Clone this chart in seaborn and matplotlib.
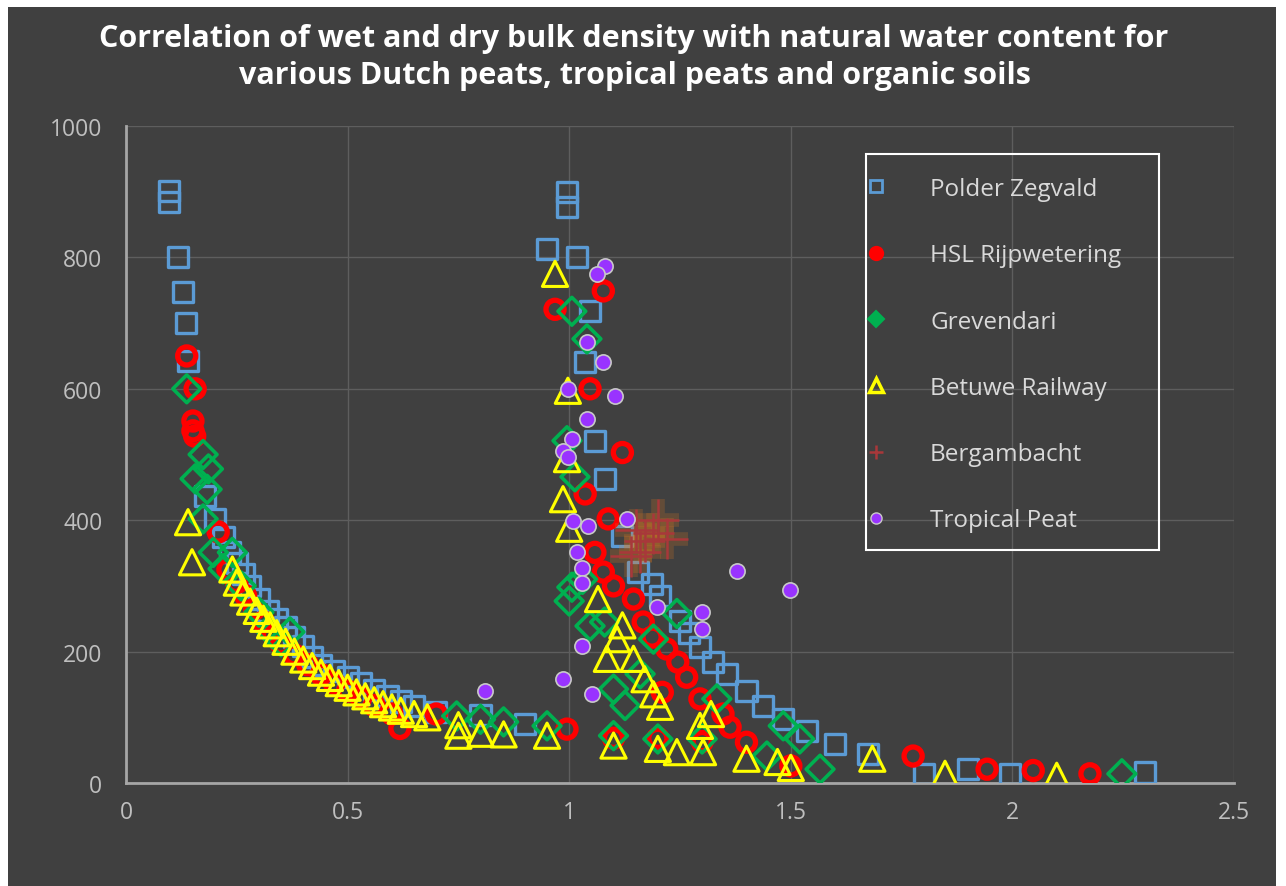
import numpy as np
import pandas as pd
import matplotlib
matplotlib.use("Agg")
import matplotlib.pyplot as plt
import matplotlib.patheffects as pe
from matplotlib.lines import Line2D
from matplotlib.patches import Rectangle
import seaborn as sns

# ---------------- data ----------------
title_lines = ["Correlation of wet and dry bulk density with natural water content for",
               "various Dutch peats, tropical peats and organic soils"]
series_names = ["Polder Zegvald", "HSL Rijpwetering", "Grevendari",
                "Betuwe Railway", "Bergambacht", "Tropical Peat"]
x_ticks = [0, 0.5, 1, 1.5, 2, 2.5]
x_tick_labels = ["0", "0.5", "1", "1.5", "2", "2.5"]
y_ticks = [0, 200, 400, 600, 800, 1000]
y_tick_labels = ["0", "200", "400", "600", "800", "1000"]

polder_x = [0.097, 0.097, 0.118, 0.129, 0.136, 0.140, 0.178, 0.200, 0.220, 0.235, 0.250, 0.265,
            0.280, 0.300, 0.320, 0.340, 0.360, 0.380, 0.400, 0.420, 0.440, 0.470, 0.500, 0.530,
            0.560, 0.590, 0.620, 0.650, 0.700, 0.800, 0.900,
            0.995, 0.995, 0.950, 1.017, 1.047, 1.036, 1.058, 1.081, 1.120, 1.155, 1.187, 1.205,
            1.250, 1.270, 1.295, 1.325, 1.356, 1.400, 1.437, 1.483, 1.536, 1.600, 1.675, 1.800,
            1.900, 1.995, 2.300]
polder_y = [901, 884, 800, 747, 700, 642, 437, 402, 375, 352, 335, 318,
            300, 280, 262, 250, 238, 222, 208, 192, 180, 170, 162, 152,
            142, 132, 124, 117, 108, 103, 90,
            900, 877, 813, 800, 718, 641, 521, 463, 376, 321, 303, 285,
            247, 228, 207, 184, 166, 140, 117, 97, 79, 59, 44, 14,
            21, 14, 16]

hsl_x = [0.137, 0.156, 0.151, 0.151, 0.155, 0.208, 0.230, 0.250, 0.270, 0.290, 0.310, 0.330,
         0.350, 0.380, 0.410, 0.440, 0.470, 0.500, 0.530, 0.560, 0.600, 0.618, 0.700, 0.995,
         1.077, 0.968, 1.047, 1.120, 1.036, 1.088, 1.058, 1.077, 1.100, 1.145, 1.167, 1.187,
         1.220, 1.245, 1.265, 1.210, 1.295, 1.347, 1.363, 1.400, 1.100, 1.200, 1.300, 1.500,
         1.776, 1.943, 2.047, 2.175]
hsl_y = [650, 600, 551, 536, 528, 382, 325, 305, 285, 265, 245, 228,
         212, 195, 180, 165, 152, 140, 130, 118, 105, 83, 105, 82,
         749, 721, 600, 503, 440, 402, 351, 321, 300, 280, 245, 222,
         204, 184, 161, 138, 128, 105, 85, 62, 68, 68, 63, 26,
         41, 21, 19, 14]

grev_x = [0.137, 0.174, 0.186, 0.156, 0.183, 0.174, 0.197, 0.240, 0.219, 0.260, 0.300, 0.330,
          0.350, 0.370, 0.746, 0.800, 0.852, 0.950, 1.100, 1.200,
          1.006, 1.040, 0.995, 1.013, 1.030, 1.006, 1.000, 1.047, 1.080, 1.100, 1.126, 1.160,
          1.190, 1.243, 1.333, 1.446, 1.483, 1.520, 1.566, 1.300, 2.247]
grev_y = [600, 500, 478, 463, 447, 402, 351, 351, 326, 300, 260, 228,
          215, 230, 102, 97, 93, 87, 72, 67,
          718, 676, 521, 466, 310, 298, 277, 239, 245, 143, 118, 166,
          219, 258, 128, 41, 87, 67, 21, 67, 14]

betuwe_x = [0.140, 0.149, 0.240, 0.250, 0.265, 0.280, 0.295, 0.310, 0.325, 0.340, 0.360, 0.380,
            0.400, 0.420, 0.440, 0.460, 0.480, 0.500, 0.520, 0.540, 0.560, 0.580, 0.600, 0.620,
            0.650, 0.680, 0.750, 0.750, 0.800, 0.852, 0.950,
            0.968, 0.997, 0.995, 0.986, 1.000, 1.065, 1.120, 1.085, 1.108, 1.145, 1.170, 1.190,
            1.205, 1.100, 1.200, 1.243, 1.302, 1.295, 1.320, 1.400, 1.470, 1.500, 1.684, 1.848,
            2.100]
betuwe_y = [397, 336, 325, 305, 290, 276, 262, 250, 240, 228, 215, 200,
            188, 178, 168, 160, 152, 145, 138, 132, 126, 120, 115, 110,
            105, 100, 88, 72, 75, 74, 72,
            775, 597, 493, 432, 387, 280, 240, 189, 219, 189, 158, 135,
            116, 57, 52, 47, 47, 87, 105, 37, 32, 23, 37, 14,
            11]

berg_x = [1.140, 1.150, 1.170, 1.190, 1.200, 1.160, 1.220]
berg_y = [345, 385, 368, 380, 400, 352, 372]

trop_x = [1.081, 1.062, 1.040, 1.077, 0.998, 1.103, 1.040, 1.006, 0.986, 0.998, 1.008, 1.042,
          1.130, 1.017, 1.030, 1.030, 1.378, 1.197, 1.300, 1.300, 1.030, 1.498, 0.986, 0.810,
          1.051]
trop_y = [787, 775, 671, 641, 600, 589, 554, 524, 506, 496, 399, 391,
          402, 351, 328, 305, 323, 268, 260, 234, 209, 293, 158, 140,
          135]

# ---------------- style ----------------
BG = "#404040"
sns.set_style("dark", rc={"axes.facecolor": BG, "figure.facecolor": "white"})
plt.rcParams["font.family"] = ["Open Sans", "DejaVu Sans"]

fig = plt.figure(figsize=(12.86, 8.87), dpi=100)
fig.patches.append(Rectangle((8 / 1286, 0), (1276 - 8) / 1286, (887 - 8) / 887,
                             transform=fig.transFigure, facecolor=BG,
                             edgecolor="none", zorder=-10))
ax = fig.add_axes([126 / 1286, 1 - 784 / 887, (1234 - 126) / 1286, (784 - 127) / 887])
ax.set_facecolor(BG)

specs = [
    # x, y, marker, size, facecolor, edgecolor, lw, glow
    (polder_x, polder_y, "s", 210, "none", "#5B9BD5", 2.4, None),
    (hsl_x, hsl_y, "o", 170, "none", "#FF0000", 3.8, None),
    (grev_x, grev_y, "D", 200, "none", "#00B050", 2.6, None),
    (betuwe_x, betuwe_y, "^", 330, "none", "#FFFF00", 2.2, None),
    (berg_x, berg_y, "+", 900, "#A8383A", "#A8383A", 1.8, "#E07A20"),
    (trop_x, trop_y, "o", 120, "#9933FF", "#C9C9C9", 1.2, None),
]

for name, (xs, ys, mk, sz, fc, ec, lw, glow) in zip(series_names, specs):
    df = pd.DataFrame({"x": xs, "y": ys})
    kws = dict(marker=mk, s=sz, linewidths=lw, ax=ax, legend=False, zorder=3)
    if mk == "+":
        kws.update(color=ec)
    else:
        kws.update(color=ec, facecolor=fc, edgecolor=ec)
    sns.scatterplot(data=df, x="x", y="y", **kws)
    coll = ax.collections[-1]
    if glow is not None:
        coll.set_path_effects([pe.Stroke(linewidth=lw + 8, foreground=glow, alpha=0.22),
                               pe.Normal()])

ax.set_xlim(0, 2.5)
ax.set_ylim(0, 1000)
ax.set_xticks(x_ticks)
ax.set_xticklabels(x_tick_labels)
ax.set_yticks(y_ticks)
ax.set_yticklabels(y_tick_labels)
ax.set_xlabel("")
ax.set_ylabel("")
ax.grid(True, color="#5E5E5E", linewidth=1.0)
ax.set_axisbelow(True)
for side in ["top", "right"]:
    ax.spines[side].set_visible(False)
for side in ["left", "bottom"]:
    ax.spines[side].set_visible(True)
    ax.spines[side].set_color("#A6A6A6")
    ax.spines[side].set_linewidth(2)
ax.tick_params(axis="both", length=0, colors="#BFBFBF", labelsize=16.5)
ax.tick_params(axis="x", pad=12)
ax.tick_params(axis="y", pad=17)

# title
fig.text(634 / 1286, 1 - 39 / 887, title_lines[0], ha="center", va="center",
         fontsize=22, fontweight="bold", color="white")
fig.text(635 / 1286, 1 - 76 / 887, title_lines[1], ha="center", va="center",
         fontsize=22, fontweight="bold", color="white")

# legend frame drawn separately, legend entries placed inside
fig.patches.append(Rectangle((866 / 1286, 1 - 551 / 887), (1159 - 866) / 1286, (551 - 155) / 887,
                             transform=fig.transFigure, facecolor="none",
                             edgecolor="white", linewidth=1.5, zorder=5))
handles = [
    Line2D([], [], ls="none", marker="s", ms=9, mfc="none", mec="#5B9BD5", mew=2),
    Line2D([], [], ls="none", marker="o", ms=9, mfc="#FF0000", mec="#FF0000", mew=2),
    Line2D([], [], ls="none", marker="D", ms=8, mfc="#00B050", mec="#00B050", mew=1.5),
    Line2D([], [], ls="none", marker="^", ms=10, mfc="none", mec="#FFFF00", mew=2.5),
    Line2D([], [], ls="none", marker="+", ms=10, mec="#A8383A", mew=1.8),
    Line2D([], [], ls="none", marker="o", ms=8, mfc="#9933FF", mec="#C9C9C9", mew=1),
]
leg = fig.legend(handles, series_names, loc="upper left",
                 bbox_to_anchor=(869 / 1286, 1 - 178 / 887),
                 bbox_transform=fig.transFigure, borderaxespad=0, borderpad=0,
                 frameon=False, fontsize=17.5, labelcolor="#D9D9D9",
                 labelspacing=1.74, handlelength=0.6, handletextpad=1.91)

fig.savefig("out.png", dpi=100, facecolor="white")
